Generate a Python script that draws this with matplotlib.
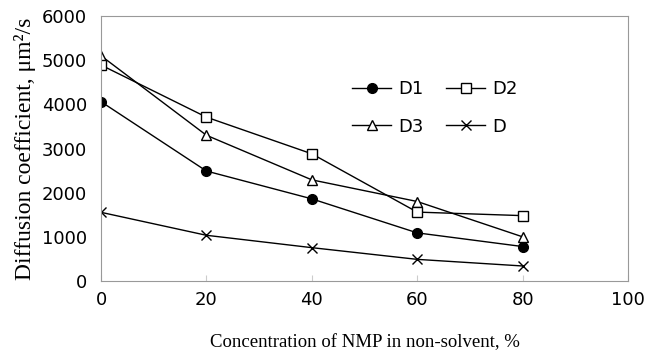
import matplotlib.pyplot as plt

conc = [0, 20, 40, 60, 80]
d1 = [4060, 2490, 1860, 1090, 780]
d2 = [4890, 3710, 2880, 1560, 1480]
d3 = [5100, 3300, 2290, 1800, 1000]
d = [1555, 1035, 755, 490, 340]

fig = plt.figure(figsize=(6.45, 3.57), dpi=100)
ax = fig.add_axes([101 / 645, 1 - 281 / 357, 527 / 645, 265 / 357])

kw = dict(color="black", lw=1.0, ms=7)
# plot order so that the 2-column legend reads D1 D2 / D3 D
ax.plot(conc, d1, marker="o", label="D1", **kw)
ax.plot(conc, d3, marker="^", mfc="white", label="D3", **kw)
ax.plot(conc, d2, marker="s", mfc="white", label="D2", **kw)
ax.plot(conc, d, marker="x", mew=1.0, label="D", **kw)

ax.set_xlim(0, 100)
ax.set_ylim(0, 6000)
ax.set_xticks(range(0, 101, 20))
ax.set_yticks(range(0, 6001, 1000))
for s in ax.spines.values():
    s.set_color("#999999")
ax.tick_params(axis="x", direction="in", length=4, color="#cccccc", labelsize=13, pad=7)
ax.tick_params(axis="y", length=0, labelsize=13, pad=10)

ax.set_xlabel("Concentration of NMP in non-solvent, %", family="Liberation Serif",
              fontsize=13.5, labelpad=18)
ax.set_ylabel("Diffusion coefficient, μm²/s", family="Liberation Serif",
              fontsize=17, labelpad=4)

ax.legend(ncol=2, frameon=False, loc="upper left", bbox_to_anchor=(0.445, 0.82),
          fontsize=13, handlelength=2.2, columnspacing=1.2, labelspacing=1.1,
          handletextpad=0.4)

fig.savefig("out.png", dpi=100)
